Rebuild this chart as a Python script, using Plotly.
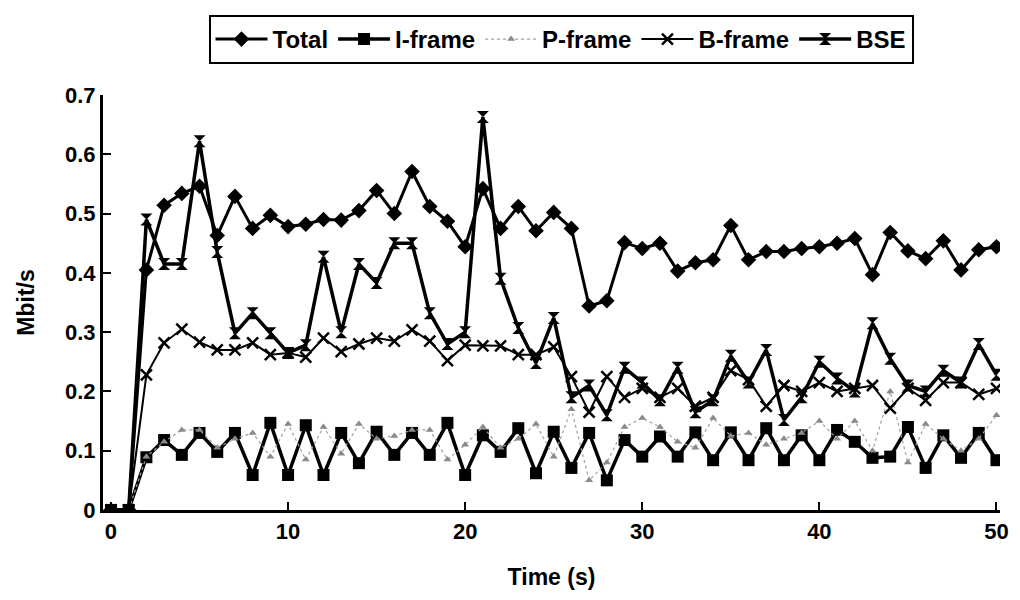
import plotly.graph_objects as go

time_s = list(range(0, 51))

total = [0, 0, 0.405, 0.514, 0.534, 0.546, 0.463, 0.529, 0.475, 0.497, 0.478, 0.482, 0.49, 0.489, 0.505, 0.539,
         0.50, 0.571, 0.512, 0.487, 0.444, 0.542, 0.475, 0.512, 0.471, 0.502, 0.475, 0.344, 0.353, 0.451,
         0.441, 0.45, 0.403, 0.417, 0.422, 0.48, 0.422, 0.436, 0.436, 0.441, 0.444, 0.45, 0.458, 0.397,
         0.468, 0.437, 0.424, 0.454, 0.405, 0.439, 0.444]

i_frame = [0, 0, 0.089, 0.118, 0.093, 0.13, 0.098, 0.13, 0.059, 0.147, 0.059, 0.143, 0.059, 0.13, 0.079,
           0.132, 0.093, 0.13, 0.093, 0.147, 0.059, 0.126, 0.098, 0.138, 0.062, 0.132, 0.071, 0.13, 0.05,
           0.118, 0.09, 0.124, 0.09, 0.131, 0.084, 0.131, 0.084, 0.138, 0.084, 0.126, 0.084, 0.135, 0.115,
           0.088, 0.09, 0.14, 0.071, 0.126, 0.088, 0.13, 0.084]

p_frame = [0, 0, 0.09, 0.115, 0.135, 0.135, 0.105, 0.12, 0.13, 0.09, 0.145, 0.085, 0.14, 0.095, 0.145,
           0.12, 0.125, 0.135, 0.135, 0.085, 0.11, 0.14, 0.105, 0.12, 0.145, 0.09, 0.17, 0.05, 0.08, 0.14,
           0.155, 0.14, 0.115, 0.105, 0.155, 0.125, 0.13, 0.11, 0.12, 0.13, 0.15, 0.12, 0.15, 0.1, 0.2,
           0.08, 0.145, 0.12, 0.1, 0.12, 0.16]

b_frame = [0, 0, 0.228, 0.282, 0.305, 0.283, 0.27, 0.27, 0.282, 0.262, 0.265, 0.258, 0.29, 0.267, 0.28,
           0.29, 0.285, 0.304, 0.285, 0.252, 0.278, 0.277, 0.277, 0.262, 0.262, 0.275, 0.225, 0.165, 0.225,
           0.19, 0.205, 0.19, 0.205, 0.175, 0.19, 0.235, 0.22, 0.175, 0.21, 0.2, 0.215, 0.2, 0.205, 0.21,
           0.172, 0.205, 0.185, 0.215, 0.215, 0.195, 0.205]

bse = [0, 0, 0.49, 0.415, 0.415, 0.622, 0.435, 0.298, 0.332, 0.298, 0.265, 0.278, 0.427, 0.3, 0.415,
       0.383, 0.45, 0.45, 0.332, 0.28, 0.3, 0.663, 0.39, 0.307, 0.248, 0.324, 0.19, 0.21, 0.16, 0.24,
       0.215, 0.185, 0.24, 0.165, 0.185, 0.26, 0.215, 0.27, 0.152, 0.19, 0.25, 0.222, 0.2, 0.315, 0.255,
       0.21, 0.2, 0.235, 0.215, 0.28, 0.228]

x_ticks = [0, 10, 20, 30, 40, 50]
y_ticks = [0, 0.1, 0.2, 0.3, 0.4, 0.5, 0.6, 0.7]
y_tick_text = ["0", "0.1", "0.2", "0.3", "0.4", "0.5", "0.6", "0.7"]

FONT = "Liberation Sans, Arial, sans-serif"
W, H = 1004, 584

fig = go.Figure()
fig.add_trace(go.Scatter(x=time_s, y=total, name="Total", mode="lines+markers",
                         line=dict(color="black", width=3),
                         marker=dict(symbol="diamond", size=12, color="black")))
fig.add_trace(go.Scatter(x=time_s, y=i_frame, name="I-frame", mode="lines+markers",
                         line=dict(color="black", width=3.5),
                         marker=dict(symbol="square", size=12, color="black")))
fig.add_trace(go.Scatter(x=time_s, y=p_frame, name="P-frame", mode="lines+markers",
                         line=dict(color="#a0a0a0", width=1.2, dash="dot"),
                         marker=dict(symbol="triangle-up", size=7, color="#8a8a8a")))
fig.add_trace(go.Scatter(x=time_s, y=b_frame, name="B-frame", mode="lines+markers",
                         line=dict(color="black", width=2),
                         marker=dict(symbol="x-thin-open", size=11, line=dict(color="black", width=2.5))))
fig.add_trace(go.Scatter(x=time_s, y=bse, name="BSE", mode="lines+markers",
                         line=dict(color="black", width=3.5),
                         marker=dict(symbol="hourglass", size=12, color="black")))

fig.update_layout(
    width=W, height=H,
    paper_bgcolor="white", plot_bgcolor="white",
    margin=dict(l=95, r=12, t=87, b=82),
    font=dict(family=FONT, size=22, color="black", weight="bold"),
    legend=dict(orientation="h", xref="container", x=553 / W, xanchor="center",
                yref="container", y=1 - 7 / H, yanchor="top",
                bordercolor="black", borderwidth=2,
                font=dict(family=FONT, size=24, color="black", weight="bold"),
                itemwidth=52, tracegroupgap=0),
    xaxis=dict(range=[-0.45, 50.2], tickvals=x_ticks, ticks="inside", ticklen=8, tickwidth=2,
               tickcolor="black", showline=True, linecolor="black", linewidth=3,
               showgrid=False, zeroline=False, mirror=False, automargin=False,
               title=dict(text="Time (s)", font=dict(size=23, weight="bold"), standoff=26),
               tickfont=dict(size=22, weight="bold")),
    yaxis=dict(range=[0, 0.7], tickvals=y_ticks, ticktext=y_tick_text, ticks="inside",
               ticklen=8, tickwidth=2, tickcolor="black", showline=True, linecolor="black",
               linewidth=3, showgrid=False, zeroline=False, automargin=False,
               title=dict(text="Mbit/s", font=dict(size=23, weight="bold"), standoff=24),
               tickfont=dict(size=22, weight="bold")),
)

fig.write_html("out.html")
